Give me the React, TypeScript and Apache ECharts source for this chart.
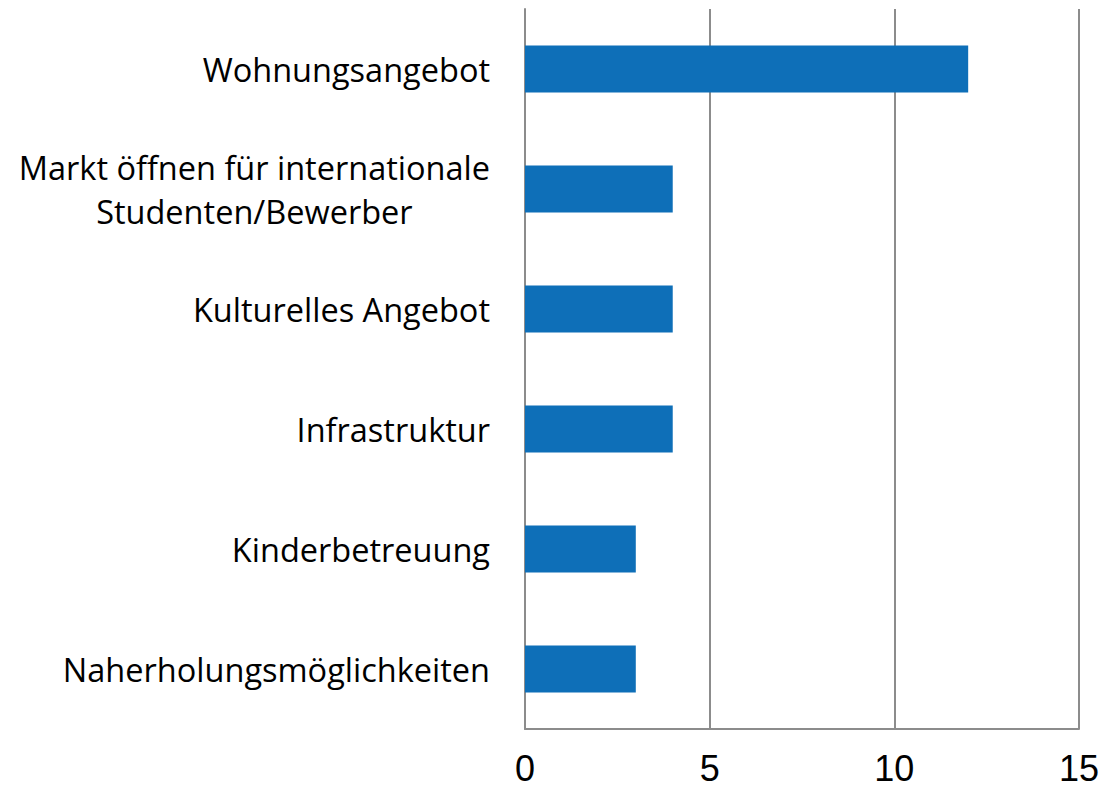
import React, { useEffect, useRef } from "react";
import * as echarts from "echarts";

const categories = [
  "Wohnungsangebot",
  "Markt öffnen für internationale\nStudenten/Bewerber",
  "Kulturelles Angebot",
  "Infrastruktur",
  "Kinderbetreuung",
  "Naherholungsmöglichkeiten",
];
const values = [12, 4, 4, 4, 3, 3];
const xTicks = { min: 0, max: 15, interval: 5 };

export default function App() {
  const ref = useRef<HTMLDivElement>(null);
  useEffect(() => {
    if (!ref.current) return;
    const chart = echarts.init(ref.current, undefined, { renderer: "svg" });
    const gray = "#8c8c8c";
    chart.setOption({
      animation: false,
      grid: { left: 525, right: 21, top: 9, bottom: 61, containLabel: false },
      xAxis: {
        type: "value",
        min: xTicks.min,
        max: xTicks.max,
        interval: xTicks.interval,
        axisLine: { show: true, lineStyle: { color: gray, width: 2 } },
        axisTick: { show: false },
        splitLine: { show: true, lineStyle: { color: gray, width: 2 } },
        axisLabel: {
          color: "#000",
          fontFamily: "Liberation Sans, Arial, sans-serif",
          fontSize: 36,
          margin: 21,
        },
      },
      yAxis: {
        type: "category",
        inverse: true,
        data: categories,
        axisLine: { show: true, lineStyle: { color: gray, width: 2 } },
        axisTick: { show: false },
        splitLine: { show: false },
        axisLabel: {
          margin: 35,
          formatter: (v: string) =>
            v
              .split("\n")
              .map((l) => `{c|${l}}`)
              .join("\n"),
          rich: {
            c: {
              align: "center",
              color: "#000",
              fontFamily: "Open Sans, sans-serif",
              fontSize: 32.5,
              lineHeight: 44,
            },
          },
          color: "#000",
          fontFamily: "Open Sans, sans-serif",
          fontSize: 32.5,
          lineHeight: 44,
        },
      },
      series: [
        {
          type: "bar",
          data: values,
          barWidth: 47,
          itemStyle: { color: "#0e6fb8" },
        },
      ],
    });
    return () => chart.dispose();
  }, []);
  return (
    <div
      ref={ref}
      style={{ position: "fixed", left: 0, top: 0, width: 1102, height: 790, background: "#fff" }}
    />
  );
}
